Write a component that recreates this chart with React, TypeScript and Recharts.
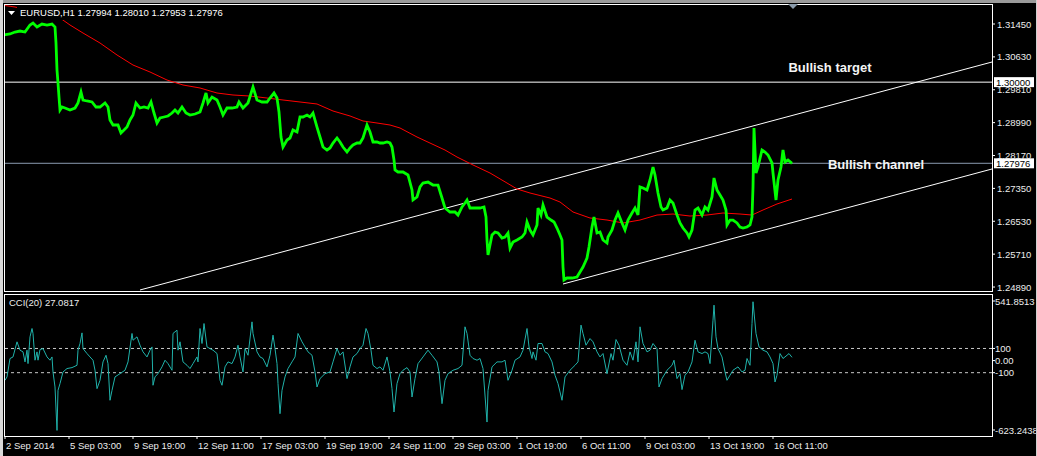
// EURUSD H1 chart with moving average, channel and CCI(20) panel

import React from "react";
import {
  ComposedChart,
  Line,
  XAxis,
  YAxis,
  ReferenceLine,
  ReferenceDot,
} from "recharts";

const FONT = "'Liberation Sans', Arial, sans-serif";

// x is the bar number (one H1 bar per pixel), counted from the left edge
const timeTicks = [1, 65, 129, 193, 257, 321, 385, 449, 513, 577, 641, 705, 769];
const timeLabels = [
  "2 Sep 2014", "5 Sep 03:00", "9 Sep 19:00", "12 Sep 11:00", "17 Sep 03:00",
  "19 Sep 19:00", "24 Sep 11:00", "29 Sep 03:00", "1 Oct 19:00", "6 Oct 11:00",
  "9 Oct 03:00", "13 Oct 19:00", "16 Oct 11:00",
];

const priceTicks = [1.3145, 1.3063, 1.2981, 1.2899, 1.2817, 1.2735, 1.2653, 1.2571, 1.2489];
const ohlc = [1.27994, 1.2801, 1.27953, 1.27976];
const targetLevel = 1.3;
const lastPrice = 1.27976;

// [bar, close]
const closes = [
  [0, 1.31176], [6, 1.31201], [11, 1.3125], [16, 1.31275], [21, 1.3125], [26, 1.31425], [29, 1.31475],
  [33, 1.31375], [38, 1.3145], [43, 1.31425], [48, 1.3145], [51, 1.31375], [52, 1.30976], [53, 1.30303],
  [54, 1.29979], [55, 1.29629], [56, 1.29305], [58, 1.2938], [61, 1.29355], [66, 1.29305], [71, 1.29355],
  [74, 1.2948], [77, 1.29754], [79, 1.29555], [83, 1.2953], [88, 1.29505], [92, 1.2938], [96, 1.2938],
  [101, 1.2948], [104, 1.2938], [106, 1.29056], [109, 1.28931], [114, 1.28931], [117, 1.28731], [120, 1.28806],
  [123, 1.28881], [126, 1.29056], [129, 1.2918], [132, 1.2948], [136, 1.29355], [140, 1.2938], [144, 1.29355],
  [147, 1.29505], [150, 1.2923], [153, 1.28981], [156, 1.29106], [160, 1.29131], [164, 1.29156], [168, 1.2923],
  [171, 1.29305], [174, 1.2923], [178, 1.2938], [182, 1.2923], [186, 1.2918], [191, 1.29205],
  [196, 1.29255], [199, 1.2948], [202, 1.29729], [204, 1.2948], [208, 1.29629], [213, 1.29555], [216, 1.2938],
  [219, 1.2918], [223, 1.29355], [228, 1.29355], [233, 1.2938], [235, 1.29505], [239, 1.29355], [244, 1.2948],
  [249, 1.29879], [253, 1.29555], [258, 1.29505], [263, 1.29505], [266, 1.29604], [270, 1.29729], [273, 1.29604],
  [275, 1.29255], [277, 1.28632], [279, 1.28382], [283, 1.28557], [286, 1.28607], [289, 1.28806], [293, 1.28756],
  [296, 1.29131], [299, 1.29131], [303, 1.2918], [306, 1.29131], [309, 1.2923], [313, 1.28881], [316, 1.28632],
  [319, 1.28382], [323, 1.28307], [326, 1.28357], [329, 1.28482], [333, 1.28607], [336, 1.28507], [339, 1.28382],
  [343, 1.28258], [346, 1.28357], [349, 1.28432], [353, 1.28482], [356, 1.28482], [359, 1.28607], [363, 1.28931],
  [366, 1.28756], [369, 1.28507], [373, 1.28507], [376, 1.28482], [379, 1.28482], [383, 1.28507], [386, 1.28482],
  [388, 1.28382], [390, 1.28058], [391, 1.27809],
  [394, 1.27759], [399, 1.27759], [404, 1.27684], [408, 1.2731], [409, 1.27061], [413, 1.27135], [416, 1.27385],
  [419, 1.27484], [424, 1.27509], [429, 1.27434], [434, 1.27434], [438, 1.2711], [441, 1.26861], [446, 1.26761],
  [451, 1.26761], [454, 1.26686], [458, 1.26886], [461, 1.26986], [463, 1.27061], [466, 1.26861], [471, 1.26861],
  [476, 1.26861], [480, 1.26886], [482, 1.26636], [483, 1.26063], [484, 1.25689], [488, 1.26188], [491, 1.26263],
  [494, 1.26238], [498, 1.26113], [501, 1.26138], [504, 1.26238], [506, 1.25863], [509, 1.26013], [513, 1.26063],
  [518, 1.26138], [521, 1.26238], [523, 1.26512], [526, 1.26312], [529, 1.26188], [533, 1.26437], [534, 1.26861],
  [537, 1.26686], [539, 1.26936], [543, 1.26636], [547, 1.26561], [550, 1.26512], [553, 1.26362], [556, 1.26188],
  [558, 1.26063], [559, 1.25389], [560, 1.25065], [563, 1.25115], [568, 1.25115], [573, 1.2514], [576, 1.25265],
  [579, 1.25389], [583, 1.25614], [585, 1.25888], [588, 1.26387], [590, 1.26636],
  [593, 1.26238], [596, 1.26263], [599, 1.26063], [603, 1.25988], [604, 1.26138], [608, 1.26312], [611, 1.26561],
  [614, 1.26736], [618, 1.26487], [621, 1.26312], [624, 1.26561], [628, 1.26736], [631, 1.26861], [634, 1.26686],
  [636, 1.27385], [639, 1.2736], [643, 1.2731], [646, 1.27559], [649, 1.27884], [651, 1.27684], [654, 1.27235],
  [657, 1.26886], [659, 1.26811], [663, 1.26861], [666, 1.27061], [669, 1.26986], [673, 1.26686], [676, 1.26487],
  [679, 1.26362], [683, 1.26238], [685, 1.26138], [688, 1.26312], [691, 1.26811], [694, 1.26861], [698, 1.26686],
  [701, 1.26886], [704, 1.26811], [708, 1.27135], [710, 1.27609], [713, 1.2731], [716, 1.27185], [719, 1.27061],
  [722, 1.26811], [723, 1.26437], [726, 1.26561], [729, 1.26561], [733, 1.26487], [736, 1.26387], [739, 1.26362],
  [743, 1.26387], [746, 1.26437], [748, 1.26636], [749, 1.27385], [750, 1.28856], [752, 1.27734], [754, 1.27884],
  [758, 1.28307], [761, 1.28258], [764, 1.28183], [768, 1.27983], [769, 1.27734], [772, 1.27061], [774, 1.27559],
  [777, 1.27884], [779, 1.28307], [781, 1.28008], [784, 1.28058], [788, 1.27976],
];

// [bar, moving average]
const movingAverage = [
  [1, 1.31911], [11, 1.31874], [56, 1.316], [66, 1.31425], [79, 1.31225], [96, 1.30976], [113, 1.30677],
  [129, 1.30427], [146, 1.30253], [163, 1.30053], [179, 1.29929], [196, 1.29854], [213, 1.29729], [229, 1.29679],
  [246, 1.29654], [263, 1.29604], [279, 1.29555], [296, 1.29505], [313, 1.29455], [329, 1.2928], [346, 1.29156],
  [359, 1.29031], [373, 1.28981], [386, 1.28931], [396, 1.28856], [413, 1.28632], [441, 1.28307], [453, 1.28133],
  [469, 1.27934], [486, 1.27734], [503, 1.27484], [513, 1.27335], [526, 1.27235], [546, 1.2711], [556, 1.27011],
  [569, 1.26761], [586, 1.26612], [603, 1.26561], [619, 1.26487], [636, 1.26561], [653, 1.26686], [669, 1.26711],
  [686, 1.26661], [703, 1.26686], [719, 1.26736], [736, 1.26711], [748, 1.26686], [759, 1.26811], [773, 1.26961],
  [788, 1.27085],
];

const upperChannel = [[136, 1.24816], [988, 1.30502]];
const lowerChannel = [[559, 1.24965], [988, 1.27834]];

// [bar, CCI(20)]
const cci = [
  [1, -163], [3, -135], [6, 17], [9, 30], [13, 155], [16, 86], [19, 72], [21, -11], [23, 86], [24, -25],
  [26, 196], [28, 265], [29, 224], [31, 3], [33, 72], [34, 3], [36, 91], [39, 99], [43, 30], [46, 3], [48, 30],
  [49, -94], [51, -218], [53, -577], [54, -246], [56, -190], [59, -94], [63, -66], [68, -58], [73, -39], [74, 86],
  [76, 141], [78, 229], [79, 99], [83, 58], [86, 30], [89, 3], [91, -80], [93, -232], [96, -163], [99, -11],
  [102, 44], [104, -25], [106, -328], [108, -246], [111, -135], [116, -108], [121, -80], [124, -11], [128, 224],
  [129, 168], [133, 196], [136, 127], [139, 72], [143, 30], [146, 86], [148, 113], [149, -204], [151, -135],
  [154, -108], [158, -52], [161, 3], [164, -25], [168, -80], [169, 224], [173, 251], [174, 86], [176, 155],
  [179, -11], [183, -39], [186, -66], [189, -25], [193, 30], [194, -11], [196, 265], [198, 141], [200, 306],
  [203, 113], [206, 99], [209, 86], [213, 58], [216, -163], [218, -204], [221, -52], [224, -11], [228, -25],
  [231, 30], [234, 127], [236, 30], [239, -94], [241, 99], [244, 44], [248, 320], [249, 224], [253, 72], [256, 30],
  [259, 17], [263, -52], [266, 44], [269, 210], [271, 99], [273, -25], [274, -190], [276, -439], [278, -246],
  [281, -135], [284, -66], [288, -11], [291, 30], [294, 224], [298, 155], [301, 113], [304, 72], [308, 44],
  [311, -94], [313, -218], [316, -149], [321, -108], [326, -94], [329, -11], [333, 99], [336, 44], [339, 72],
  [343, -149], [346, -52], [349, 30], [353, 58], [356, 99], [359, 127], [362, 265], [364, 224], [367, 86],
  [369, -39], [373, -66], [376, -52], [379, -80], [383, 30], [386, -94], [388, -232], [390, -425], [393, -190],
  [396, -108], [399, -80], [403, -58], [406, -94], [408, -301], [411, -149], [414, -25], [419, 30], [424, 86],
  [428, 44], [433, -11], [435, -94], [438, -356], [441, -163], [444, -108], [449, -80], [454, -66], [458, -39],
  [461, 279], [463, 224], [466, 44], [469, 17], [473, 3], [476, 17], [479, -66], [483, -508], [484, -246],
  [488, -52], [493, -11], [498, -11], [501, 3], [504, -163], [508, -80], [511, 3], [516, 30], [519, 86],
  [523, 265], [525, 113], [528, 17], [529, 72], [532, 3], [534, 141], [538, 141], [541, 72], [544, 58],
  [548, -11], [551, -121], [554, -190], [558, -328], [561, -135], [566, -80], [571, -39], [574, -11], [577, 293],
  [579, 224], [582, 127], [586, 182], [589, 155], [593, 72], [596, 30], [599, 58], [603, -108], [607, 58],
  [609, 3], [612, 174], [615, 127], [619, 3], [623, -39], [626, 72], [629, 3], [632, 155], [634, -11], [636, 279],
  [639, 141], [643, 72], [646, 86], [649, 141], [653, 99], [655, -218], [658, -149], [663, -80], [668, -39],
  [670, 3], [673, -149], [676, -108], [678, -240], [681, -121], [684, -94], [688, -11], [691, 168], [694, 72],
  [698, 58], [701, 72], [704, 58], [706, -25], [709, 334], [710, 458], [712, 196], [714, 99], [718, 30],
  [721, -94], [723, -163], [726, -121], [729, -80], [734, -52], [738, -94], [741, -80], [743, 17], [746, -39],
  [748, 306], [749, 486], [752, 224], [755, 113], [759, 86], [763, 72], [766, 30], [769, -25], [771, -177],
  [773, -121], [776, 58], [779, 17], [783, 44], [785, 58], [788, 27.0817],
];
const cciLevels = [100, -100];
const cciTicks = [541.8513, 100, 0, -100, -623.2438];
const cciTickLabels = ["541.8513", "100", "0.00", "-100", "-623.2438"];

const toPoints = (rows) => rows.map(([b, v]) => ({ b, v }));
const toSegment = (rows) => rows.map(([x, y]) => ({ x, y }));

const WIDTH = 1037;
const X_DOMAIN = [0, 988];
const AXIS_TEXT = "#ececec";

function PriceTick({ x, y, payload }) {
  return (
    <g>
      <line x1={x - 5} x2={x - 2} y1={y} y2={y} stroke="#fff" />
      <text x={x} y={y} dy={3.5} fill={AXIS_TEXT} fontSize={9.5} fontFamily={FONT}>
        {payload.value.toFixed(5)}
      </text>
    </g>
  );
}

function CciTick({ x, y, payload }) {
  const i = cciTicks.indexOf(payload.value);
  const shift = i === 0 ? 6 : i === cciTicks.length - 1 ? -6 : 0;
  return (
    <g>
      <line x1={x - 5} x2={x - 2} y1={y + shift} y2={y + shift} stroke="#fff" />
      <text x={x - 2} y={y + shift} dy={3.5} fill={AXIS_TEXT} fontSize={9.5} fontFamily={FONT}>
        {cciTickLabels[i]}
      </text>
    </g>
  );
}

function TimeTick({ x, y, payload }) {
  const i = timeTicks.indexOf(payload.value);
  return (
    <g>
      <line x1={x} x2={x} y1={y - 5} y2={y - 2} stroke="#fff" />
      <text x={x + 1} y={y + 8} fill={AXIS_TEXT} fontSize={9.5} fontFamily={FONT}>
        {timeLabels[i]}
      </text>
    </g>
  );
}

// price box drawn on the right scale for a horizontal level
function LevelBox({ viewBox, value }) {
  const x = viewBox.x + viewBox.width + 2;
  const y = viewBox.y;
  return (
    <g>
      <rect x={x} y={y - 5} width={40} height={10} fill="#fff" />
      <text x={x + 2} y={y} dy={3.5} fill="#000" fontSize={9.5} fontFamily={FONT}>
        {value}
      </text>
    </g>
  );
}

function Note({ viewBox, text }) {
  return (
    <text
      x={viewBox.cx ?? viewBox.x}
      y={viewBox.cy ?? viewBox.y}
      dy={4.5}
      textAnchor="middle"
      fill="#f4f4f4"
      fontSize={13}
      fontWeight="bold"
      fontFamily={FONT}
    >
      {text}
    </text>
  );
}

export default function App() {
  return (
    <div
      style={{
        position: "relative",
        width: WIDTH,
        height: 456,
        background: "#000",
        overflow: "hidden",
        fontFamily: FONT,
      }}
    >
      <style>{"body{margin:0}"}</style>

      {/* main price panel */}
      <div style={{ position: "absolute", left: 0, top: 0 }}>
        <ComposedChart width={WIDTH} height={292} margin={{ top: 5, right: 0, bottom: 1, left: 4 }}>
          <XAxis dataKey="b" type="number" domain={X_DOMAIN} allowDataOverflow hide />
          <YAxis
            orientation="right"
            width={45}
            type="number"
            domain={[1.24791, 1.31924]}
            allowDataOverflow
            ticks={priceTicks}
            interval={0}
            tick={PriceTick}
            tickSize={3}
            tickMargin={2}
            tickLine={false}
            axisLine={false}
          />
          <ReferenceLine
            y={lastPrice}
            stroke="#8a9bb0"
            label={(p) => <LevelBox {...p} value={lastPrice.toFixed(5)} />}
          />
          <ReferenceLine
            y={targetLevel}
            stroke="#fff"
            label={(p) => <LevelBox {...p} value={targetLevel.toFixed(5)} />}
          />
          <ReferenceLine segment={toSegment(upperChannel)} stroke="#fff" ifOverflow="visible" />
          <ReferenceLine segment={toSegment(lowerChannel)} stroke="#fff" ifOverflow="visible" />
          <Line
            data={toPoints(movingAverage)}
            dataKey="v"
            stroke="#ff0000"
            strokeWidth={1}
            dot={false}
            isAnimationActive={false}
          />
          <Line
            data={toPoints(closes)}
            dataKey="v"
            stroke="#00ff00"
            strokeWidth={2.8}
            strokeLinejoin="miter"
            dot={false}
            isAnimationActive={false}
          />
          <ReferenceDot
            x={826}
            y={1.30353}
            r={0}
            fill="none"
            stroke="none"
            label={(p) => <Note {...p} text="Bullish target" />}
          />
          <ReferenceDot
            x={872}
            y={1.27958}
            r={0}
            fill="none"
            stroke="none"
            label={(p) => <Note {...p} text="Bullish channel" />}
          />
        </ComposedChart>
      </div>

      {/* CCI panel */}
      <div style={{ position: "absolute", left: 0, top: 292 }}>
        <ComposedChart width={WIDTH} height={164} margin={{ top: 3, right: 0, bottom: 0, left: 4 }}>
          <XAxis
            dataKey="b"
            type="number"
            domain={X_DOMAIN}
            allowDataOverflow
            ticks={timeTicks}
            interval={0}
            tick={TimeTick}
            tickSize={3}
            tickMargin={2}
            tickLine={false}
            axisLine={false}
            height={20}
          />
          <YAxis
            orientation="right"
            width={45}
            type="number"
            domain={[-623.2438, 541.8513]}
            allowDataOverflow
            ticks={cciTicks}
            interval={0}
            tick={CciTick}
            tickSize={3}
            tickMargin={2}
            tickLine={false}
            axisLine={false}
          />
          {cciLevels.map((lv) => (
            <ReferenceLine key={lv} y={lv} stroke="#c8c8c8" strokeDasharray="3 3" />
          ))}
          <Line
            data={toPoints(cci)}
            dataKey="v"
            stroke="#20b2aa"
            strokeWidth={1}
            dot={false}
            isAnimationActive={false}
          />
        </ComposedChart>
      </div>

      {/* frames, window edges and captions */}
      <div
        style={{
          position: "absolute", left: 4, top: 4, width: 989, height: 288,
          boxSizing: "border-box", border: "1px solid #fff", pointerEvents: "none",
        }}
      />
      <div
        style={{
          position: "absolute", left: 4, top: 294, width: 989, height: 143,
          boxSizing: "border-box", border: "1px solid #fff", pointerEvents: "none",
        }}
      />
      <div style={{ position: "absolute", left: 0, top: 0, width: WIDTH, height: 3, background: "#9a9a9a" }} />
      <div style={{ position: "absolute", left: 0, top: 0, width: 3, height: 456, background: "#d8d8d8" }} />
      <div style={{ position: "absolute", left: 1036, top: 0, width: 1, height: 456, background: "#d0d0d0" }} />

      <svg
        width={WIDTH}
        height={456}
        style={{ position: "absolute", left: 0, top: 0, pointerEvents: "none" }}
      >
        <rect x={17} y={7} width={208} height={13} fill="#000" />
        <polygon points="8,11 15,11 11.5,15" fill="#fff" />
        <text x={20} y={16} fill="#fff" fontSize={9.5} fontFamily={FONT}>
          {"EURUSD,H1  " + ohlc.map((v) => v.toFixed(5)).join(" ")}
        </text>
        <polygon points="788,4 798,4 793,9" fill="#8a9aaa" />
        <text x={9} y={306} fill={AXIS_TEXT} fontSize={9.5} fontFamily={FONT}>
          {"CCI(20) " + cci[cci.length - 1][1].toFixed(4)}
        </text>
      </svg>
    </div>
  );
}
